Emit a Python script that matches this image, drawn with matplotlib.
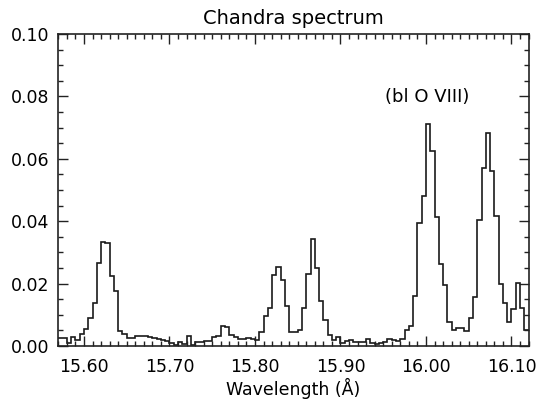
import numpy as np
import matplotlib
matplotlib.use("Agg")
import matplotlib.pyplot as plt
from matplotlib.ticker import MultipleLocator

# binned Chandra counts, 0.005 A bins starting at 15.57 A
wave_start = 15.57
bin_width = 0.005
counts = [
    0.0025, 0.0025, 0.0010, 0.0029, 0.0020, 0.0037, 0.0053, 0.0091, 0.0139, 0.0265,
    0.0334, 0.0329, 0.0225, 0.0176, 0.0048, 0.0037, 0.0025, 0.0027, 0.0033, 0.0033,
    0.0033, 0.0030, 0.0027, 0.0021, 0.0019, 0.0017, 0.0009, 0.0003, 0.0014, 0.0006,
    0.0033, 0.0003, 0.0014, 0.0014, 0.0017, 0.0017, 0.0030, 0.0032, 0.0063, 0.0060,
    0.0035, 0.0028, 0.0022, 0.0022, 0.0025, 0.0022, 0.0020, 0.0044, 0.0096, 0.0122,
    0.0226, 0.0253, 0.0210, 0.0127, 0.0045, 0.0046, 0.0051, 0.0123, 0.0230, 0.0342,
    0.0249, 0.0145, 0.0083, 0.0035, 0.0019, 0.0028, 0.0009, 0.0016, 0.0019, 0.0014,
    0.0014, 0.0014, 0.0021, 0.0009, 0.0005, 0.0009, 0.0012, 0.0021, 0.0019, 0.0017,
    0.0021, 0.0051, 0.0064, 0.0160, 0.0393, 0.0481, 0.0710, 0.0625, 0.0415, 0.0262,
    0.0196, 0.0076, 0.0051, 0.0057, 0.0057, 0.0048, 0.0091, 0.0156, 0.0404, 0.0572,
    0.0684, 0.0561, 0.0417, 0.0198, 0.0137, 0.0077, 0.0120, 0.0203, 0.0123, 0.0051,
]
edges = wave_start + bin_width * np.arange(len(counts) + 1)

fig = plt.figure(figsize=(5.39, 4.01), dpi=100)
ax = fig.add_axes([0.1076, 0.1372, 0.8738, 0.778])

ax.stairs(counts, edges, color="#1a1a1a", linewidth=1.2, baseline=None)

ax.set_xlim(15.5696, 16.1205)
ax.set_ylim(0, 0.10)

ax.xaxis.set_major_locator(MultipleLocator(0.1))
ax.xaxis.set_minor_locator(MultipleLocator(0.01))
ax.yaxis.set_major_locator(MultipleLocator(0.02))
ax.yaxis.set_minor_locator(MultipleLocator(0.005))
ax.xaxis.set_major_formatter(plt.FormatStrFormatter("%.2f"))
ax.yaxis.set_major_formatter(plt.FormatStrFormatter("%.2f"))

ax.tick_params(which="both", direction="in", top=True, right=True,
               color="#222222", width=1.0)
ax.tick_params(which="major", length=7, labelsize=12.5)
ax.tick_params(axis="x", which="major", pad=9)
ax.tick_params(axis="y", which="major", pad=6)
ax.tick_params(which="minor", length=3.5)
for sp in ax.spines.values():
    sp.set_linewidth(1.2)
    sp.set_color("#222222")

ax.set_title("Chandra spectrum", fontsize=14, pad=7)
ax.set_xlabel("Wavelength (Å)", fontsize=12.5, labelpad=1)
ax.text(15.952, 0.0798, "(bl O VIII)", fontsize=13, ha="left", va="center")

fig.savefig("out.png", dpi=100)
